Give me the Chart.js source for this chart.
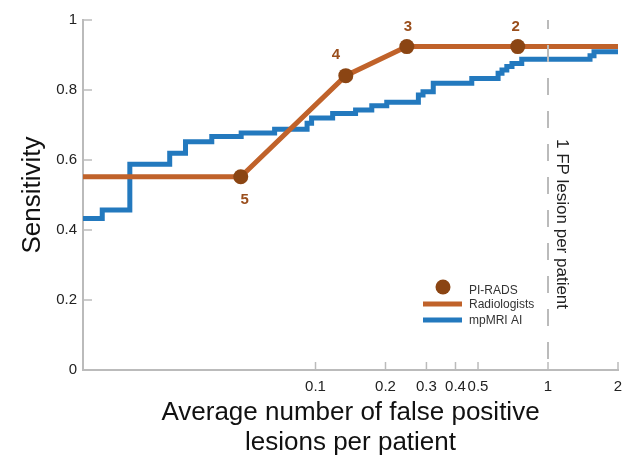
<!DOCTYPE html>
<html>
<head>
<meta charset="utf-8">
<script src="https://cdn.jsdelivr.net/npm/chart.js@4.4.0/dist/chart.umd.min.js"></script>
<style>
  html, body { margin: 0; padding: 0; background: #fff; }
</style>
</head>
<body>
<canvas id="froc" width="627" height="459"></canvas>
<script>
// tick labels
const xTicks = [0.1, 0.2, 0.3, 0.4, 0.5, 1, 2];
const yTicks = [0, 0.2, 0.4, 0.6, 0.8, 1];

// PI-RADS operating points of the radiologists
const piradsLabels = ['5', '4', '3', '2'];
const piradsFp = [0.0477, 0.135, 0.247, 0.741];
const piradsSens = [0.552, 0.841, 0.924, 0.924];

// radiologists curve (runs through the PI-RADS points)
const radFp = [0.01, 0.0477, 0.135, 0.247, 0.741, 2];
const radSens = [0.552, 0.552, 0.841, 0.924, 0.924, 0.924];

// mpMRI AI curve (steps)
const aiFp = [0.01, 0.0121, 0.0159, 0.0236, 0.0276, 0.0358, 0.0479, 0.0667, 0.092, 0.0962,
  0.1185, 0.1487, 0.1746, 0.2025, 0.277, 0.29, 0.321, 0.47, 0.61, 0.634, 0.665, 0.7, 0.771,
  1.516, 1.577, 2];
const aiSens = [0.433, 0.457, 0.588, 0.619, 0.652, 0.667, 0.677, 0.688, 0.705, 0.72,
  0.733, 0.743, 0.755, 0.765, 0.786, 0.795, 0.819, 0.833, 0.848, 0.857, 0.867, 0.876, 0.888,
  0.898, 0.909, 0.909];

// vertical reference at 1 FP per patient
const refFp = 1;
const refLabel = '1 FP lesion per patient';

const orange = '#C0622A';
const brown = '#8B4513';
const blue = '#2379BE';
const axisGrey = '#bbbbbb';
const font = "'Liberation Sans', Arial, sans-serif";

const toXY = (xs, ys) => xs.map((x, i) => ({x: x, y: ys[i]}));

// label offsets (px) for the PI-RADS numbers
const labelOffsets = [[4, 23], [-10, -21], [1, -20], [-2, -20]];

const extras = {
  id: 'extras',
  afterDatasetsDraw(chart) {
    const {ctx, scales: {x, y}, chartArea} = chart;
    ctx.save();

    // inner tick marks
    ctx.strokeStyle = axisGrey;
    ctx.lineWidth = 1.5;
    xTicks.forEach(v => {
      const px = x.getPixelForValue(v);
      ctx.beginPath();
      ctx.moveTo(px, chartArea.bottom);
      ctx.lineTo(px, chartArea.bottom - 8);
      ctx.stroke();
    });
    yTicks.forEach(v => {
      const py = y.getPixelForValue(v);
      ctx.beginPath();
      ctx.moveTo(chartArea.left, py);
      ctx.lineTo(chartArea.left + 9, py);
      ctx.stroke();
    });

    // PI-RADS numbers
    const pts = chart.getDatasetMeta(1).data;
    ctx.fillStyle = '#9A4E1C';
    ctx.font = 'bold 15px ' + font;
    ctx.textAlign = 'center';
    ctx.textBaseline = 'middle';
    pts.forEach((p, i) => {
      ctx.fillText(piradsLabels[i], p.x + labelOffsets[i][0], p.y + labelOffsets[i][1]);
    });

    // reference label
    const rx = x.getPixelForValue(refFp) + 14;
    const ry = (chartArea.top + chartArea.bottom) / 2 + 29;
    ctx.translate(rx, ry);
    ctx.rotate(Math.PI / 2);
    ctx.fillStyle = '#222';
    ctx.font = '17px ' + font;
    ctx.fillText(refLabel, 0, 0);
    ctx.setTransform(1, 0, 0, 1, 0, 0);

    // legend
    const lx = 423, ly = 287;
    ctx.fillStyle = brown;
    ctx.beginPath();
    ctx.arc(lx + 20, ly, 7.5, 0, Math.PI * 2);
    ctx.fill();
    ctx.lineWidth = 5;
    ctx.strokeStyle = orange;
    ctx.beginPath();
    ctx.moveTo(lx, ly + 17);
    ctx.lineTo(lx + 39, ly + 17);
    ctx.stroke();
    ctx.strokeStyle = blue;
    ctx.beginPath();
    ctx.moveTo(lx, ly + 33);
    ctx.lineTo(lx + 39, ly + 33);
    ctx.stroke();
    ctx.fillStyle = '#333';
    ctx.font = '12px ' + font;
    ctx.textAlign = 'left';
    ctx.fillText('PI-RADS', lx + 46, ly + 4);
    ctx.fillText('Radiologists', lx + 46, ly + 18);
    ctx.fillText('mpMRI AI', lx + 46, ly + 34);

    ctx.restore();
  }
};

new Chart(document.getElementById('froc'), {
  type: 'line',
  data: {
    datasets: [
      {
        label: 'ref',
        data: [{x: refFp, y: 1}, {x: refFp, y: 0}],
        borderColor: axisGrey,
        borderWidth: 2,
        borderDash: [17, 16],
        borderDashOffset: 8,
        pointRadius: 0
      },
      {
        label: 'PI-RADS',
        data: toXY(piradsFp, piradsSens),
        showLine: false,
        pointRadius: 7.5,
        pointBackgroundColor: brown,
        pointBorderWidth: 0
      },
      {
        label: 'Radiologists',
        data: toXY(radFp, radSens),
        borderColor: orange,
        borderWidth: 5,
        pointRadius: 0,
        tension: 0
      },
      {
        label: 'mpMRI AI',
        data: toXY(aiFp, aiSens),
        borderColor: blue,
        borderWidth: 5,
        stepped: 'before',
        borderJoinStyle: 'miter',
        pointRadius: 0
      }
    ]
  },
  options: {
    responsive: false,
    animation: false,
    devicePixelRatio: 1,
    layout: {padding: {top: 20, right: 9, left: 0, bottom: 0}},
    plugins: {
      legend: {display: false},
      tooltip: {enabled: false}
    },
    scales: {
      x: {
        type: 'logarithmic',
        min: 0.01,
        max: 2,
        afterBuildTicks: s => { s.ticks = xTicks.map(v => ({value: v})); },
        afterFit: s => { s.height = 89; s.paddingRight = 0; s.paddingLeft = 0; },
        grid: {display: false, drawTicks: false},
        border: {color: axisGrey, width: 2},
        ticks: {
          autoSkip: false,
          maxRotation: 0,
          padding: 8,
          color: '#222',
          font: {family: font, size: 15},
          callback: v => String(v)
        },
        title: {
          display: true,
          text: ['Average number of false positive', 'lesions per patient'],
          color: '#111',
          font: {family: font, size: 26, lineHeight: 1.12},
          padding: {top: 0, bottom: 2}
        }
      },
      y: {
        min: 0,
        max: 1,
        afterBuildTicks: s => { s.ticks = yTicks.map(v => ({value: v})); },
        afterFit: s => { s.width = 83; },
        grid: {display: false, drawTicks: false},
        border: {color: axisGrey, width: 2},
        ticks: {
          padding: 6,
          color: '#222',
          font: {family: font, size: 15},
          callback: v => String(v)
        },
        title: {
          display: true,
          text: 'Sensitivity',
          color: '#111',
          font: {family: font, size: 26},
          padding: {top: 17, bottom: 0}
        }
      }
    }
  },
  plugins: [extras]
});
</script>
</body>
</html>
